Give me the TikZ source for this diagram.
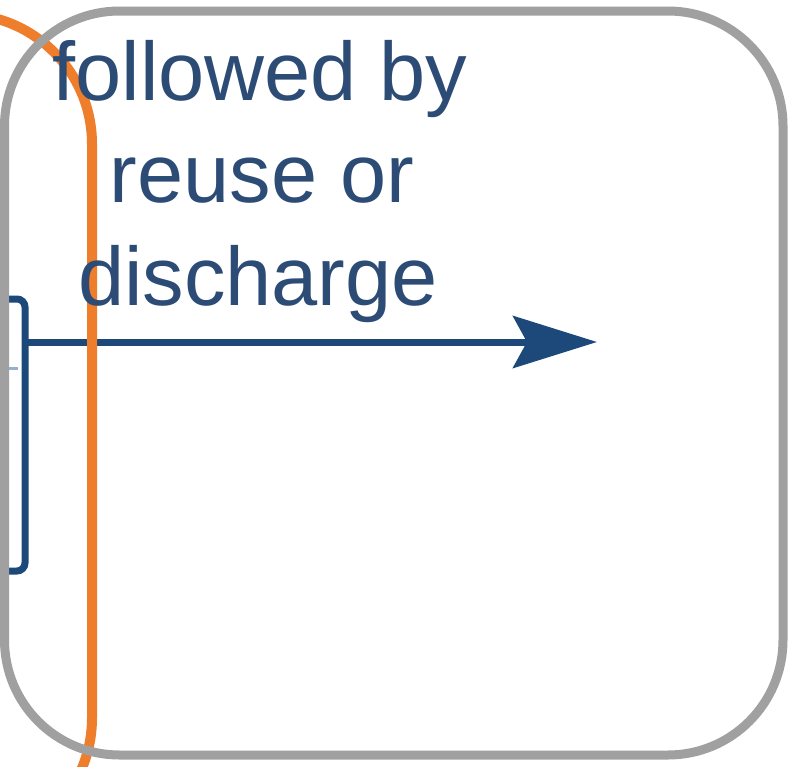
\documentclass[tikz,border=0pt]{standalone}
\usepackage{fontspec}
\setmainfont{Liberation Sans}
\usetikzlibrary{arrows.meta}
\definecolor{txtblue}{RGB}{44,76,118}
\definecolor{linblue}{RGB}{28,72,122}
\definecolor{boxgrey}{RGB}{160,160,160}
\definecolor{orng}{RGB}{238,125,44}
\definecolor{faintblue}{RGB}{150,175,205}
\tikzset{
  lbl/.style={font=\fontsize{83pt}{103pt}\selectfont, text=txtblue, inner sep=0pt, anchor=base},
  bluestroke/.style={draw=linblue, line width=7pt},
}
\begin{document}
\begin{tikzpicture}[x=1pt,y=-1pt]
\useasboundingbox (0,0) rectangle (800,766);
\begin{scope}
\clip (0,0) rectangle (800,766);
% bracket (partial box at left)
\draw[bluestroke, rounded corners=8pt] (-60,299) -- (25,299) -- (25,571) -- (-60,571);
\draw[faintblue, line width=3pt] (-5,368) -- (18,368);
% arrow
\coordinate (bracket) at (25,342);
\coordinate (tip) at (597,342);
\draw[bluestroke, -{Stealth[length=84pt, width=52pt, inset=14pt]}] (bracket) -- (tip);
% orange curve
\draw[orng, line width=10pt, rounded corners=130pt] (-300,14) rectangle (92,848);
% grey box
\draw[boxgrey, line width=9pt, rounded corners=115pt] (4.5,11) rectangle (783,755);
\end{scope}
% text
\node[lbl] (t1) at (260,100) {followed by};
\node[lbl] (t2) at (262,202) {reuse or};
\node[lbl] (t3) at (258,305) {discharge};
\end{tikzpicture}
\end{document}
